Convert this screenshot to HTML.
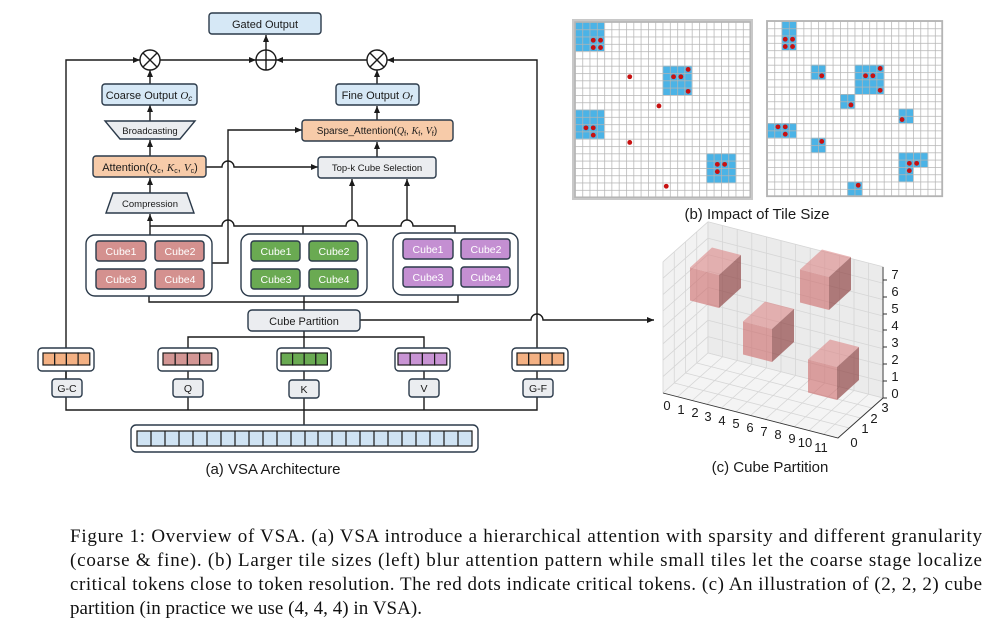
<!DOCTYPE html>
<html><head><meta charset="utf-8"><style>
html,body{margin:0;padding:0;background:#fff}
svg{display:block}
.t{font-family:"Liberation Sans",sans-serif;fill:#1a1a1a}
.cap{font-family:"Liberation Serif",serif;font-size:19px;fill:#111}
</style></head><body>
<svg width="998" height="637" viewBox="0 0 998 637" xmlns="http://www.w3.org/2000/svg">
<defs>
<marker id="ar" markerWidth="8" markerHeight="8" refX="7" refY="4" orient="auto" markerUnits="userSpaceOnUse"><path d="M0,1 L7,4 L0,7 z" fill="#1a1a1a"/></marker>
<pattern id="gp" patternUnits="userSpaceOnUse" width="1" height="1"><path d="M1 0 L0 0 0 1" fill="none" stroke="#b4b4b4" stroke-width="0.2"/></pattern>
</defs>

<g fill="none" stroke="#1a1a1a" stroke-width="1.4">
 <path d="M66 379 V60 H140" marker-end="url(#ar)"/>
 <path d="M537 348 V60 H387" marker-end="url(#ar)"/>
 <path d="M160 60 H256" marker-end="url(#ar)"/>
 <path d="M367 60 H276" marker-end="url(#ar)"/>
 <path d="M266 50 V35" marker-end="url(#ar)"/>
 <path d="M150 84 V70" marker-end="url(#ar)"/>
 <path d="M377 84 V70" marker-end="url(#ar)"/>
 <path d="M150 121 V105" marker-end="url(#ar)"/>
 <path d="M150 156 V140" marker-end="url(#ar)"/>
 <path d="M150 193 V178" marker-end="url(#ar)"/>
 <path d="M150 235 V214" marker-end="url(#ar)"/>
 <path d="M377 120 V106" marker-end="url(#ar)"/>
 <path d="M377 157 V142" marker-end="url(#ar)"/>
 <path d="M206 167 H222 A6 6 0 0 1 234 167 H318" marker-end="url(#ar)"/>
 <path d="M212 263 H228 V130 H302" marker-end="url(#ar)"/>
 <path d="M150 226 H222 A6 6 0 0 1 234 226 H346 A6 6 0 0 1 358 226 H401 A6 6 0 0 1 413 226 H455 V233"/>
 <path d="M303 226 V234"/>
 <path d="M352 220 V179" marker-end="url(#ar)"/>
 <path d="M407 220 V179" marker-end="url(#ar)"/>
 <path d="M149 296 V302 H458 V295"/>
 <path d="M304 296 V310"/>
 <path d="M360 320 H531 A6 6 0 0 1 543 320 H654" marker-end="url(#ar)"/>
 <path d="M304 331 V348"/>
 <path d="M188 348 V337 H424 V348"/>
 <path d="M66 371 V410 H537 V371"/>
 <path d="M188 371 V410"/>
 <path d="M304 371 V425"/>
 <path d="M424 371 V410"/>
</g>

<g fill="#fff" stroke="#1a1a1a" stroke-width="1.4">
 <circle cx="150" cy="60" r="10"/><path d="M143 53 L157 67 M157 53 L143 67"/>
 <circle cx="266" cy="60" r="10"/><path d="M256 60 H276 M266 50 V70"/>
 <circle cx="377" cy="60" r="10"/><path d="M370 53 L384 67 M384 53 L370 67"/>
</g>

<g stroke="#2b3a4a" stroke-width="1.4">
 <rect x="209" y="13" width="112" height="21" rx="3" fill="#d6e8f6"/>
 <rect x="102" y="84" width="95" height="21" rx="3" fill="#d6e8f6"/>
 <rect x="336" y="84" width="83" height="21" rx="3" fill="#d6e8f6"/>
 <polygon points="105,121 195,121 180,139 120,139" fill="#ebedf0"/>
 <rect x="93" y="156" width="113" height="21" rx="3" fill="#f7cba9"/>
 <polygon points="113,193 187,193 194,213 106,213" fill="#ebedf0"/>
 <rect x="302" y="120" width="151" height="21" rx="3" fill="#f7cba9"/>
 <rect x="318" y="157" width="118" height="21" rx="3" fill="#ebedf0"/>
 <rect x="248" y="310" width="112" height="21" rx="4" fill="#ebedf0"/>
 <rect x="86" y="235" width="126" height="61" rx="9" fill="#fff"/>
 <rect x="241" y="234" width="126" height="62" rx="9" fill="#fff"/>
 <rect x="393" y="233" width="125" height="62" rx="9" fill="#fff"/>
 <g fill="#d4918f"><rect x="96" y="241" width="50" height="20" rx="3"/><rect x="155" y="241" width="49" height="20" rx="3"/><rect x="96" y="269" width="50" height="20" rx="3"/><rect x="155" y="269" width="49" height="20" rx="3"/></g>
 <g fill="#6aaa52"><rect x="251" y="241" width="49" height="20" rx="3"/><rect x="309" y="241" width="49" height="20" rx="3"/><rect x="251" y="269" width="49" height="20" rx="3"/><rect x="309" y="269" width="49" height="20" rx="3"/></g>
 <g fill="#c48fd2"><rect x="403" y="239" width="50" height="20" rx="3"/><rect x="461" y="239" width="49" height="20" rx="3"/><rect x="403" y="267" width="50" height="20" rx="3"/><rect x="461" y="267" width="49" height="20" rx="3"/></g>
 <rect x="38" y="348" width="56" height="23" rx="4" fill="#fff"/>
 <rect x="158" y="348" width="60" height="23" rx="4" fill="#fff"/>
 <rect x="277" y="348" width="54" height="23" rx="4" fill="#fff"/>
 <rect x="395" y="348" width="55" height="23" rx="4" fill="#fff"/>
 <rect x="512" y="348" width="56" height="23" rx="4" fill="#fff"/>
 <rect x="52" y="379" width="30" height="18" rx="3" fill="#ebedf0"/>
 <rect x="173" y="379" width="30" height="18" rx="3" fill="#ebedf0"/>
 <rect x="289" y="380" width="30" height="18" rx="3" fill="#ebedf0"/>
 <rect x="409" y="379" width="30" height="18" rx="3" fill="#ebedf0"/>
 <rect x="523" y="379" width="30" height="18" rx="3" fill="#ebedf0"/>
 <rect x="131" y="425" width="347" height="27" rx="5" fill="#fff"/>
</g>
<g stroke="#1a1a1a" stroke-width="1.2">
 <g fill="#f4b183"><rect x="43" y="353" width="11.7" height="12"/><rect x="54.7" y="353" width="11.7" height="12"/><rect x="66.4" y="353" width="11.7" height="12"/><rect x="78.1" y="353" width="11.7" height="12"/></g>
 <g fill="#d39694"><rect x="163" y="353" width="12.2" height="12"/><rect x="175.2" y="353" width="12.2" height="12"/><rect x="187.4" y="353" width="12.2" height="12"/><rect x="199.6" y="353" width="12.2" height="12"/></g>
 <g fill="#6aaa52"><rect x="281" y="353" width="11.6" height="12"/><rect x="292.6" y="353" width="11.6" height="12"/><rect x="304.2" y="353" width="11.6" height="12"/><rect x="315.8" y="353" width="11.6" height="12"/></g>
 <g fill="#c994d4"><rect x="398" y="353" width="12.2" height="12"/><rect x="410.2" y="353" width="12.2" height="12"/><rect x="422.4" y="353" width="12.2" height="12"/><rect x="434.6" y="353" width="12.2" height="12"/></g>
 <g fill="#f4b183"><rect x="517" y="353" width="11.7" height="12"/><rect x="528.7" y="353" width="11.7" height="12"/><rect x="540.4" y="353" width="11.7" height="12"/><rect x="552.1" y="353" width="11.7" height="12"/></g>
 <rect x="137" y="431" width="335" height="15" fill="#cfe3f3"/>
 <path d="M151 431V446M165 431V446M179 431V446M193 431V446M207 431V446M221 431V446M235 431V446M249 431V446M263 431V446M277 431V446M291 431V446M305 431V446M318 431V446M332 431V446M346 431V446M360 431V446M374 431V446M388 431V446M402 431V446M416 431V446M430 431V446M444 431V446M458 431V446"/>
</g>

<g class="t" font-size="11" text-anchor="middle">
 <text x="265" y="28">Gated Output</text>
 <text x="149" y="99">Coarse Output <tspan font-style="italic" font-family="Liberation Serif">O</tspan><tspan font-style="italic" font-size="8" dy="2">c</tspan></text>
 <text x="377" y="99">Fine Output <tspan font-style="italic" font-family="Liberation Serif">O</tspan><tspan font-style="italic" font-size="8" dy="2">f</tspan></text>
 <text x="150" y="134" font-size="9.5">Broadcasting</text>
 <text x="150" y="171">Attention(<tspan font-style="italic" font-family="Liberation Serif">Q</tspan><tspan font-size="7" dy="2">c</tspan><tspan dy="-2">, </tspan><tspan font-style="italic" font-family="Liberation Serif">K</tspan><tspan font-size="7" dy="2">c</tspan><tspan dy="-2">, </tspan><tspan font-style="italic" font-family="Liberation Serif">V</tspan><tspan font-size="7" dy="2">c</tspan><tspan dy="-2">)</tspan></text>
 <text x="150" y="207" font-size="9.5">Compression</text>
 <text x="377" y="134" font-size="10">Sparse_Attention(<tspan font-style="italic" font-family="Liberation Serif">Q</tspan><tspan font-size="7" dy="2">f</tspan><tspan dy="-2">, </tspan><tspan font-style="italic" font-family="Liberation Serif">K</tspan><tspan font-size="7" dy="2">f</tspan><tspan dy="-2">, </tspan><tspan font-style="italic" font-family="Liberation Serif">V</tspan><tspan font-size="7" dy="2">f</tspan><tspan dy="-2">)</tspan></text>
 <text x="377" y="171" font-size="9.5">Top-k Cube Selection</text>
 <text x="304" y="325">Cube Partition</text>
 <g fill="#fff" font-size="10.5">
  <text x="121" y="255">Cube1</text><text x="180" y="255">Cube2</text><text x="121" y="283">Cube3</text><text x="180" y="283">Cube4</text>
  <text x="276" y="255">Cube1</text><text x="334" y="255">Cube2</text><text x="276" y="283">Cube3</text><text x="334" y="283">Cube4</text>
  <text x="428" y="253">Cube1</text><text x="486" y="253">Cube2</text><text x="428" y="281">Cube3</text><text x="486" y="281">Cube4</text>
 </g>
 <text x="67" y="392" font-size="10.5">G-C</text>
 <text x="188" y="392" font-size="10.5">Q</text>
 <text x="304" y="393" font-size="10.5">K</text>
 <text x="424" y="392" font-size="10.5">V</text>
 <text x="538" y="392" font-size="10.5">G-F</text>
 <text x="273" y="474" font-size="15">(a) VSA Architecture</text>
 <text x="757" y="219" font-size="15">(b) Impact of Tile Size</text>
 <text x="770" y="472" font-size="15">(c) Cube Partition</text>
</g>

<rect x="572" y="19" width="181" height="181" fill="#c8c8c8"/>
<g transform="translate(575,22) scale(7.3)">
 <rect width="24" height="24" fill="#fff"/>
 <g fill="#4bb3e6"><rect x="0" y="0" width="4" height="4"/><rect x="12" y="6" width="4" height="4"/><rect x="0" y="12" width="4" height="4"/><rect x="18" y="18" width="4" height="4"/></g>
 <rect width="24" height="24" fill="url(#gp)"/>
 <rect width="24" height="24" fill="none" stroke="#b4b4b4" stroke-width="0.2"/>
 <g fill="#c81010">
  <circle cx="2.5" cy="2.5" r="0.33"/><circle cx="3.5" cy="2.5" r="0.33"/><circle cx="2.5" cy="3.5" r="0.33"/><circle cx="3.5" cy="3.5" r="0.33"/>
  <circle cx="15.5" cy="6.5" r="0.33"/><circle cx="13.5" cy="7.5" r="0.33"/><circle cx="14.5" cy="7.5" r="0.33"/><circle cx="15.5" cy="9.5" r="0.33"/>
  <circle cx="7.5" cy="7.5" r="0.33"/><circle cx="11.5" cy="11.5" r="0.33"/><circle cx="7.5" cy="16.5" r="0.33"/><circle cx="12.5" cy="22.5" r="0.33"/>
  <circle cx="1.5" cy="14.5" r="0.33"/><circle cx="2.5" cy="14.5" r="0.33"/><circle cx="2.5" cy="15.5" r="0.33"/>
  <circle cx="19.5" cy="19.5" r="0.33"/><circle cx="20.5" cy="19.5" r="0.33"/><circle cx="19.5" cy="20.5" r="0.33"/>
 </g>
</g>
<g transform="translate(767,21) scale(7.3)">
 <rect width="24" height="24" fill="#fff"/>
 <g fill="#4bb3e6"><rect x="2" y="0" width="2" height="4"/><rect x="6" y="6" width="2" height="2"/><rect x="12" y="6" width="4" height="4"/><rect x="10" y="10" width="2" height="2"/><rect x="18" y="12" width="2" height="2"/><rect x="0" y="14" width="4" height="2"/><rect x="6" y="16" width="2" height="2"/><rect x="18" y="18" width="4" height="2"/><rect x="18" y="20" width="2" height="2"/><rect x="11" y="22" width="2" height="2"/></g>
 <rect width="24" height="24" fill="url(#gp)"/>
 <rect width="24" height="24" fill="none" stroke="#b4b4b4" stroke-width="0.25"/>
 <g fill="#c81010">
  <circle cx="2.5" cy="2.5" r="0.33"/><circle cx="3.5" cy="2.5" r="0.33"/><circle cx="2.5" cy="3.5" r="0.33"/><circle cx="3.5" cy="3.5" r="0.33"/>
  <circle cx="7.5" cy="7.5" r="0.33"/>
  <circle cx="15.5" cy="6.5" r="0.33"/><circle cx="13.5" cy="7.5" r="0.33"/><circle cx="14.5" cy="7.5" r="0.33"/><circle cx="15.5" cy="9.5" r="0.33"/>
  <circle cx="11.5" cy="11.5" r="0.33"/><circle cx="18.5" cy="13.5" r="0.33"/>
  <circle cx="1.5" cy="14.5" r="0.33"/><circle cx="2.5" cy="14.5" r="0.33"/><circle cx="2.5" cy="15.5" r="0.33"/>
  <circle cx="7.5" cy="16.5" r="0.33"/>
  <circle cx="19.5" cy="19.5" r="0.33"/><circle cx="20.5" cy="19.5" r="0.33"/><circle cx="19.5" cy="20.5" r="0.33"/>
  <circle cx="12.5" cy="22.5" r="0.33"/>
 </g>
</g>

<g stroke="#d6d6d6" stroke-width="0.8" fill="none">
 <g transform="matrix(11.25,-10,0,-16.4,663,393)">
  <rect width="4" height="8" fill="#f2f2f2" stroke="none"/>
  <path vector-effect="non-scaling-stroke" d="M0 0V8M1 0V8M2 0V8M3 0V8M4 0V8M0 0H4M0 1H4M0 2H4M0 3H4M0 4H4M0 5H4M0 6H4M0 7H4M0 8H4"/>
 </g>
 <g transform="matrix(14.6,3.75,0,-16.4,708,353)">
  <rect width="12" height="8" fill="#ebebeb" stroke="none"/>
  <path vector-effect="non-scaling-stroke" d="M0 0V8M1 0V8M2 0V8M3 0V8M4 0V8M5 0V8M6 0V8M7 0V8M8 0V8M9 0V8M10 0V8M11 0V8M12 0V8M0 0H12M0 1H12M0 2H12M0 3H12M0 4H12M0 5H12M0 6H12M0 7H12M0 8H12"/>
 </g>
 <g transform="matrix(14.6,3.75,11.25,-10,663,393)">
  <rect width="12" height="4" fill="#f4f4f4" stroke="none"/>
  <path vector-effect="non-scaling-stroke" d="M0 0V4M1 0V4M2 0V4M3 0V4M4 0V4M5 0V4M6 0V4M7 0V4M8 0V4M9 0V4M10 0V4M11 0V4M12 0V4M0 0H12M0 1H12M0 2H12M0 3H12M0 4H12"/>
 </g>
</g>
<g stroke="#333" stroke-width="0.9" fill="none">
 <path d="M663 393 L838 438 L883 398 M883 398 V267"/>
 <path d="M883 398h4M883 381h4M883 364h4M883 347h4M883 330h4M883 314h4M883 297h4M883 280h4"/>
</g>
<g stroke="none">
 <g><polygon points="690,300.5 719,308 719,275 690,267.5" fill="rgba(205,105,105,0.6)"/><polygon points="690,267.5 719,275 741,255 712,247.5" fill="rgba(220,135,135,0.6)"/><polygon points="719,308 741,288 741,255 719,275" fill="rgba(140,60,60,0.65)"/></g>
 <g><polygon points="800,302.5 829,310 829,277 800,269.5" fill="rgba(205,105,105,0.6)"/><polygon points="800,269.5 829,277 851,257 822,249.5" fill="rgba(220,135,135,0.6)"/><polygon points="829,310 851,290 851,257 829,277" fill="rgba(140,60,60,0.65)"/></g>
 <g><polygon points="743,354.5 772,362 772,329 743,321.5" fill="rgba(205,105,105,0.6)"/><polygon points="743,321.5 772,329 794,309 765,301.5" fill="rgba(220,135,135,0.6)"/><polygon points="772,362 794,342 794,309 772,329" fill="rgba(140,60,60,0.65)"/></g>
 <g><polygon points="808,392.5 837,400 837,367 808,359.5" fill="rgba(205,105,105,0.6)"/><polygon points="808,359.5 837,367 859,347 830,339.5" fill="rgba(220,135,135,0.6)"/><polygon points="837,400 859,380 859,347 837,367" fill="rgba(140,60,60,0.65)"/></g>
</g>
<g class="t" font-size="13" text-anchor="middle" font-family="DejaVu Sans,sans-serif">
 <text x="667" y="410">0</text><text x="681" y="414">1</text><text x="695" y="417">2</text><text x="708" y="421">3</text><text x="722" y="425">4</text><text x="736" y="428">5</text><text x="750" y="432">6</text><text x="764" y="436">7</text><text x="778" y="439">8</text><text x="792" y="443">9</text><text x="805" y="447">10</text><text x="821" y="452">11</text>
 <text x="854" y="447">0</text><text x="865" y="433">1</text><text x="874" y="423">2</text><text x="885" y="412">3</text>
 <text x="895" y="398">0</text><text x="895" y="381">1</text><text x="895" y="364">2</text><text x="895" y="347">3</text><text x="895" y="330">4</text><text x="895" y="313">5</text><text x="895" y="296">6</text><text x="895" y="279">7</text>
</g>

<g class="cap">
 <text x="70" y="542" textLength="912" lengthAdjust="spacing">Figure 1: Overview of VSA. (a) VSA introduce a hierarchical attention with sparsity and different granularity</text>
 <text x="70" y="566" textLength="912" lengthAdjust="spacing">(coarse &amp; fine). (b) Larger tile sizes (left) blur attention pattern while small tiles let the coarse stage localize</text>
 <text x="70" y="590" textLength="912" lengthAdjust="spacing">critical tokens close to token resolution. The red dots indicate critical tokens. (c) An illustration of (2, 2, 2) cube</text>
 <text x="70" y="614" textLength="352" lengthAdjust="spacing">partition (in practice we use (4, 4, 4) in VSA).</text>
</g>
</svg>
</body></html>
